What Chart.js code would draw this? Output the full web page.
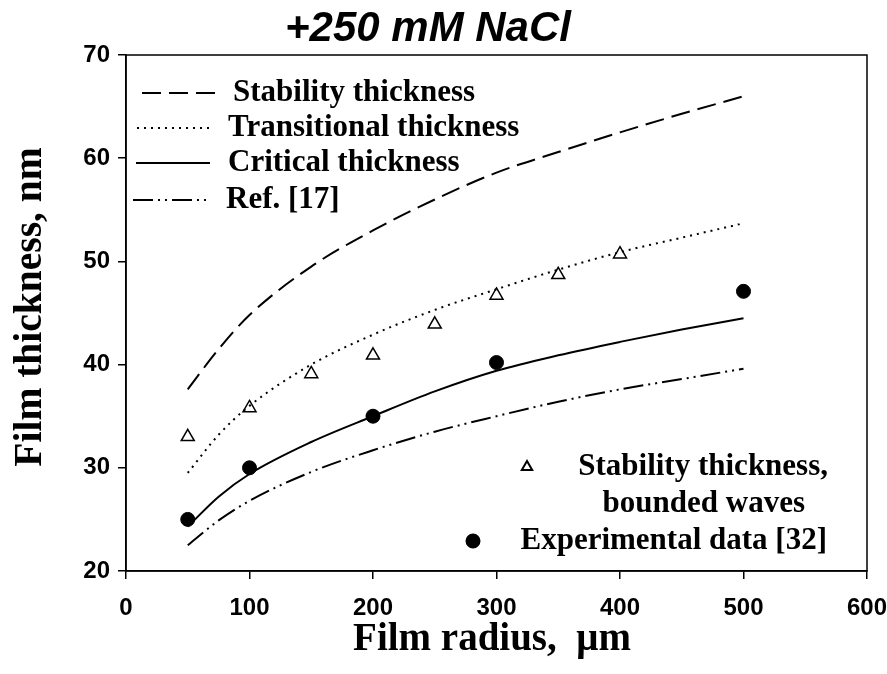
<!DOCTYPE html>
<html>
<head>
<meta charset="utf-8">
<script src="https://cdn.jsdelivr.net/npm/chart.js@4.4.1/dist/chart.umd.min.js"></script>
<style>
  html, body { margin: 0; padding: 0; background: #fff; }
  canvas { display: block; }
</style>
</head>
<body>
<canvas id="chart" width="887" height="674"></canvas>
<script>
// film radius (um) for the model curves
const radiusCurve = [50, 75, 100, 150, 200, 250, 300, 350, 400, 450, 500];
const stabilityThickness = [37.6, 41.5, 44.8, 49.5, 53.0, 56.0, 58.6, 60.6, 62.5, 64.3, 66.0];
const transitionalThickness = [29.5, 33.2, 36.0, 40.0, 42.9, 45.3, 47.3, 49.2, 50.9, 52.3, 53.7];
const criticalThickness = [24.3, 27.2, 29.4, 32.5, 35.0, 37.4, 39.4, 40.9, 42.2, 43.4, 44.5];
const ref17Thickness = [22.5, 24.9, 26.8, 29.6, 31.7, 33.5, 35.0, 36.4, 37.6, 38.6, 39.6];

// bounded waves (triangles)
const radiusBounded = [50, 100, 150, 200, 250, 300, 350, 400];
const boundedThickness = [33.0, 35.8, 39.1, 40.9, 43.9, 46.7, 48.7, 50.7];

// experimental data [32] (filled circles)
const radiusExp = [50, 100, 200, 300, 500];
const expThickness = [25.0, 30.0, 35.0, 40.2, 47.1];

const xTicks = [0, 100, 200, 300, 400, 500, 600];
const yTicks = [20, 30, 40, 50, 60, 70];

const SANS = '"Liberation Sans", Arial, sans-serif';
const SERIF = '"Liberation Serif", "Times New Roman", serif';

const DASH = [19, 8];
const DOT = [2, 5];
const DASH_DOT_DOT = [20, 5, 2, 5, 2, 5];

const toXY = (xs, ys) => xs.map((x, i) => ({ x: x, y: ys[i] }));

const curve = (label, ys, dash) => ({
  label: label,
  data: toXY(radiusCurve, ys),
  borderColor: '#000',
  borderWidth: 2,
  borderDash: dash,
  pointRadius: 0,
  fill: false,
  cubicInterpolationMode: 'monotone',
});

// legend lines, titles and the plot frame
const decorations = {
  id: 'decorations',
  afterDraw(chart) {
    const ctx = chart.ctx;
    const area = chart.chartArea;
    ctx.save();

    ctx.strokeStyle = '#000';
    ctx.lineWidth = 1.5;
    ctx.strokeRect(area.left, area.top, area.right - area.left, area.bottom - area.top);

    ctx.fillStyle = '#000';
    ctx.textBaseline = 'middle';

    // title
    ctx.font = 'italic bold 42px ' + SANS;
    ctx.textAlign = 'center';
    ctx.fillText('+250 mM NaCl', 428, 29);

    // axis titles
    ctx.font = 'bold 39px ' + SERIF;
    ctx.fillText('Film radius,  \u03bcm', 492, 640);
    ctx.save();
    ctx.translate(31, 307);
    ctx.rotate(-Math.PI / 2);
    ctx.font = 'bold 39.5px ' + SERIF;
    ctx.fillText('Film thickness, nm', 0, 0);
    ctx.restore();

    // legend for the curves
    const rows = [
      ['Stability thickness', DASH, 93, 142, 215, 233],
      ['Transitional thickness', DOT, 128, 137, 210, 228],
      ['Critical thickness', [], 163, 136, 210, 228],
      ['Ref. [17]', DASH_DOT_DOT, 200, 133, 207, 226],
    ];
    ctx.font = 'bold 31px ' + SERIF;
    ctx.textAlign = 'left';
    rows.forEach(([text, dash, y, x0, x1, tx]) => {
      ctx.setLineDash(dash);
      ctx.lineWidth = 2;
      ctx.beginPath();
      ctx.moveTo(x0, y);
      ctx.lineTo(x1, y);
      ctx.stroke();
      ctx.setLineDash([]);
      ctx.fillText(text, tx, y);
    });

    // legend for the markers
    ctx.textAlign = 'right';
    ctx.fillText('Stability thickness,', 828, 467);
    ctx.fillText('bounded waves', 805, 504);
    ctx.fillText('Experimental data [32]', 827, 541);
    ctx.fillStyle = '#fff';
    Chart.helpers.drawPoint(ctx, { pointStyle: 'triangle', radius: 6, borderWidth: 1.3 }, 527, 467);
    ctx.fillStyle = '#000';
    Chart.helpers.drawPoint(ctx, { pointStyle: 'circle', radius: 6.5, borderWidth: 1 }, 473, 541);

    ctx.restore();
  },
};

new Chart(document.getElementById('chart'), {
  type: 'line',
  data: {
    datasets: [
      curve('Stability thickness', stabilityThickness, DASH),
      curve('Transitional thickness', transitionalThickness, DOT),
      curve('Critical thickness', criticalThickness, []),
      curve('Ref. [17]', ref17Thickness, DASH_DOT_DOT),
      {
        label: 'Stability thickness, bounded waves',
        data: toXY(radiusBounded, boundedThickness),
        showLine: false,
        pointStyle: 'triangle',
        pointRadius: 7.5,
        pointBackgroundColor: '#fff',
        pointBorderColor: '#000',
        pointBorderWidth: 1.5,
      },
      {
        label: 'Experimental data [32]',
        data: toXY(radiusExp, expThickness),
        showLine: false,
        pointStyle: 'circle',
        pointRadius: 7,
        pointBackgroundColor: '#000',
        pointBorderColor: '#000',
        pointBorderWidth: 1,
      },
    ],
  },
  options: {
    responsive: false,
    devicePixelRatio: 1,
    animation: false,
    events: [],
    layout: { padding: { top: 55, right: 20, left: 0, bottom: 0 } },
    plugins: {
      legend: { display: false },
      tooltip: { enabled: false },
    },
    scales: {
      x: {
        type: 'linear',
        min: 0,
        max: 600,
        afterBuildTicks: (scale) => { scale.ticks = xTicks.map((v) => ({ value: v })); },
        afterFit: (scale) => {
          scale.height = 103;
          scale.paddingLeft = 0;
          scale.paddingRight = 0;
        },
        ticks: {
          color: '#000',
          font: { family: SANS, size: 24, weight: 'bold' },
          padding: 15,
          maxRotation: 0,
        },
        grid: { drawOnChartArea: false, tickLength: 8, color: '#000', lineWidth: 1.5 },
        border: { color: '#000', width: 1.5 },
      },
      y: {
        type: 'linear',
        min: 20,
        max: 70,
        afterBuildTicks: (scale) => { scale.ticks = yTicks.map((v) => ({ value: v })); },
        afterFit: (scale) => {
          scale.width = 126;
          scale.paddingTop = 0;
          scale.paddingBottom = 0;
        },
        ticks: {
          color: '#000',
          font: { family: SANS, size: 24, weight: 'bold' },
          padding: 8,
        },
        grid: { drawOnChartArea: false, tickLength: 8, color: '#000', lineWidth: 1.5 },
        border: { color: '#000', width: 1.5 },
      },
    },
  },
  plugins: [decorations],
});
</script>
</body>
</html>
